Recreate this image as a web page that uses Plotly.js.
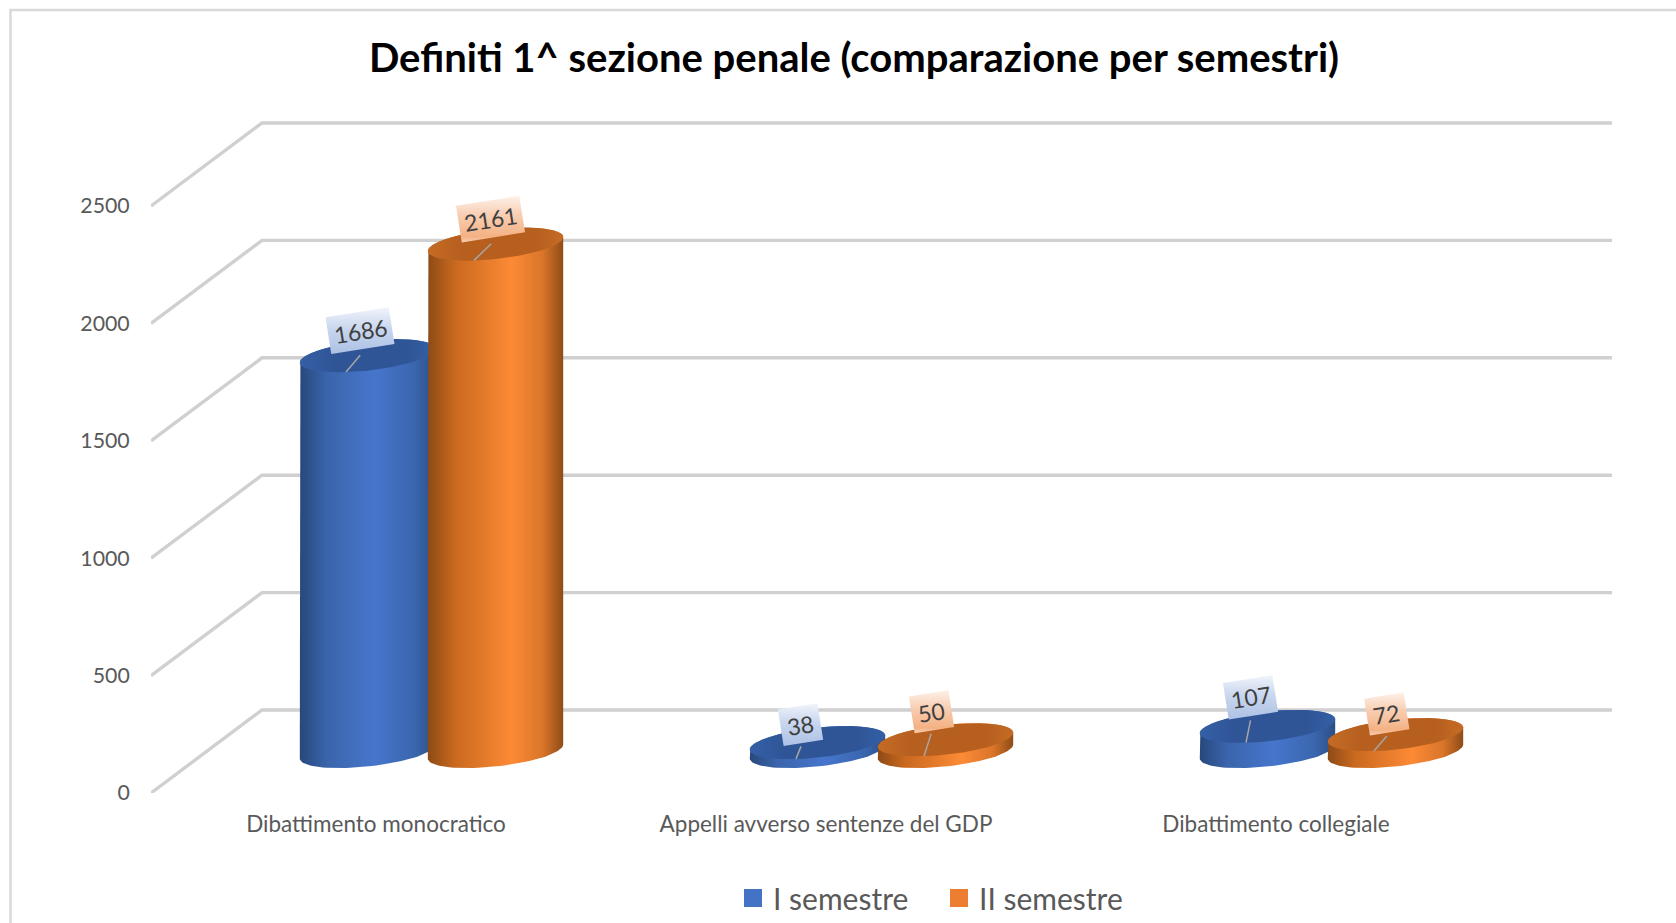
<!DOCTYPE html>
<html><head><meta charset="utf-8">
<script src="https://cdn.plot.ly/plotly-3.0.1.min.js"></script>
<style>html,body{margin:0;padding:0;background:#fff}#c{width:1676px;height:923px}</style>
</head><body><div id="c"></div>
<script>
// ---- data ----
const categories = ["Dibattimento monocratico", "Appelli avverso sentenze del GDP", "Dibattimento collegiale"];
const semestre1 = [1686, 38, 107];
const semestre2 = [2161, 50, 72];
const seriesNames = ["I semestre", "II semestre"];
const yTicks = [0, 500, 1000, 1500, 2000, 2500];
const chartTitle = "Definiti 1^ sezione penale (comparazione per semestri)";

// ---- pseudo-3D projection constants (pixels) ----
const W = 1676, H = 923, L = 151, R = 1612, Y0 = 793, Y2500 = 206, T = 110;
const pxX = 450, pxY = (Y0 - Y2500) / 2500;      // px per category, px per value
const depthX = 111 / pxX, depthY = 83 / pxY;     // shift front -> back wall
const ux = p => p / pxX, uy = p => p / pxY;      // px lengths -> data lengths
const A = ux(67.7), B = uy(15), S = uy(7), barOff = ux(64);
const ANGLE = 9 * Math.PI / 180;

const blue = {
  side: [[0,'#28487c'],[0.2,'#3a64ab'],[0.55,'#4676cc'],[0.85,'#3a66ae'],[1,'#2c4e86']],
  cap: [[0,'#3560a6'],[0.25,'#2f5597'],[0.8,'#2f5597'],[1,'#3560a6']],
  box: [[0,'#adc1e5'],[0.55,'#c9d7ee'],[1,'#f1f4fb']], swatch: '#4472c4'
};
const orange = {
  side: [[0,'#8d4a16'],[0.2,'#c9691f'],[0.62,'#fd8a35'],[0.85,'#d9752a'],[1,'#8f4c17']],
  cap: [[0,'#c56b24'],[0.25,'#b65f1f'],[0.8,'#b65f1f'],[1,'#c56b24']],
  box: [[0,'#f8cfb4'],[0.12,'#f4b183'],[0.6,'#f8cfb4'],[1,'#fdf1e9']], swatch: '#ed7d31'
};

// label placement, px relative to the centre of each cylinder's top [category order]
const labelPlace = [
  {dx:[-7.5,-17,-17],  dy:[-25,-18,-29], w:[64,40,50], lx:[-7.3,-16.5,-17], ly:[-0.3,3.8,-6.1]},
  {dx:[-5,-14,-8.7],   dy:[-25,-28,-20.6], w:[64,40,40], lx:[-4.3,-14.3,-8.7], ly:[-0.3,-6.1,1.4]}
];
const BOXH = 37, LEAD_END = [-21.5, 16.3];

const traces = [], annotations = [];
const base = {mode:'lines', showlegend:false, hoverinfo:'skip', cliponaxis:false, type:'scatter'};

// walls: one bent gridline per tick
yTicks.forEach(v => traces.push({...base,
  x:[-0.5, -0.5 + depthX, 2.5 + depthX], y:[v, v + depthY, v + depthY],
  line:{color:'#d0d0d0', width:3.4}}));

function arc(cx, cy, t0, t1, n) {
  const xs = [], ys = [];
  for (let i = 0; i <= n; i++) {
    const t = t0 + (t1 - t0) * i / n;
    xs.push(cx + A * Math.cos(t));
    ys.push(cy + S * Math.cos(t) + B * Math.sin(t));
  }
  return [xs, ys];
}

function cylinder(cat, v, sign, pal, place) {
  const cx = cat + depthX / 2 + sign * barOff, y0 = depthY / 2, y1 = y0 + v;
  const [bx, by] = arc(cx, y0, 0, -Math.PI, 48);
  const [tx, ty] = arc(cx, y1, Math.PI, 0, 48);
  traces.push({...base, x: bx.concat(tx), y: by.concat(ty), fill:'toself', line:{width:0},
    fillgradient:{type:'horizontal', colorscale:pal.side}});
  const [ex, ey] = arc(cx, y1, 0, 2 * Math.PI, 96);
  traces.push({...base, x: ex, y: ey, fill:'toself', line:{width:0},
    fillgradient:{type:'horizontal', colorscale:pal.cap}});
  // leader line
  traces.push({...base,
    x:[cx + ux(place.lx[cat]), cx + ux(LEAD_END[0])],
    y:[y1 - uy(place.ly[cat]), y1 - uy(LEAD_END[1])],
    line:{color:'#a6a6a6', width:1.5}});
  // tilted label box
  const mx = place.dx[cat], my = place.dy[cat], hw = place.w[cat] / 2, hh = BOXH / 2;
  const c = Math.cos(ANGLE), s = Math.sin(ANGLE);
  const qx = [], qy = [];
  [[-hw,-hh],[hw,-hh],[hw,hh],[-hw,hh],[-hw,-hh]].forEach(([a, b]) => {
    qx.push(cx + ux(mx + a * c + b * s));
    qy.push(y1 - uy(my - a * s + b * c));
  });
  traces.push({...base, x: qx, y: qy, fill:'toself', line:{width:0},
    fillgradient:{type:'vertical', colorscale:pal.box}});
  annotations.push({x: cx + ux(mx), y: y1 - uy(my), text: String(v), showarrow:false,
    xanchor:'center', yanchor:'middle', textangle:-9,
    font:{family:'Lato, Open Sans, sans-serif', size:23, color:'#404040'}});
}

categories.forEach((_, i) => {
  cylinder(i, semestre1[i], -1, blue, labelPlace[0]);
  cylinder(i, semestre2[i],  1, orange, labelPlace[1]);
});

// legend entries
[[seriesNames[0], blue.swatch], [seriesNames[1], orange.swatch]].forEach(([n, col]) =>
  traces.push({type:'scatter', mode:'markers', name:n, x:[null], y:[null], hoverinfo:'skip',
    marker:{symbol:'square', size:16, color:col, line:{color:col, width:2}}}));

const px2paperX = p => (p - L) / (R - L);
const px2paperY = p => (Y0 - p) / (Y0 - T);

const layout = {
  width: W, height: H, paper_bgcolor:'#fff', plot_bgcolor:'rgba(0,0,0,0)',
  margin:{l:L, r:W - R, t:T, b:H - Y0, pad:0, autoexpand:false},
  title:{text:chartTitle, x:854 / W, xanchor:'center', y:1 - 58 / H, yanchor:'middle',
    font:{family:'Lato, Open Sans, sans-serif', size:40, color:'#000', weight:700}},
  xaxis:{type:'linear', range:[-0.5, -0.5 + (R - L) / pxX], tickmode:'array',
    tickvals:categories.map((_, i) => i), ticktext:categories,
    showgrid:false, zeroline:false, showline:false, ticks:'outside', ticklen:11, tickcolor:'rgba(0,0,0,0)',
    tickfont:{family:'Lato, Open Sans, sans-serif', size:22.5, color:'#595959'}, fixedrange:true},
  yaxis:{type:'linear', range:[0, (Y0 - T) / pxY], tickmode:'array', tickvals:yTicks,
    ticktext:yTicks.map(String),
    showgrid:false, zeroline:false, showline:false, ticks:'outside', ticklen:16, tickcolor:'rgba(0,0,0,0)',
    tickfont:{family:'Lato, Open Sans, sans-serif', size:21.3, color:'#595959'}, fixedrange:true},
  legend:{orientation:'h', x:px2paperX(733), xanchor:'left', y:px2paperY(898), yanchor:'middle',
    entrywidth:161, entrywidthmode:'pixels',
    font:{family:'Lato, Open Sans, sans-serif', size:30, color:'#595959'},
    itemclick:false, itemdoubleclick:false},
  annotations,
  shapes:[{type:'rect', xref:'paper', yref:'paper', layer:'below',
    x0:px2paperX(10.5), x1:px2paperX(W + 20), y0:px2paperY(10), y1:px2paperY(H + 20),
    line:{color:'#d9d9d9', width:2.5}, fillcolor:'rgba(0,0,0,0)'}]
};
Plotly.newPlot('c', traces, layout, {displayModeBar:false});
</script></body></html>
